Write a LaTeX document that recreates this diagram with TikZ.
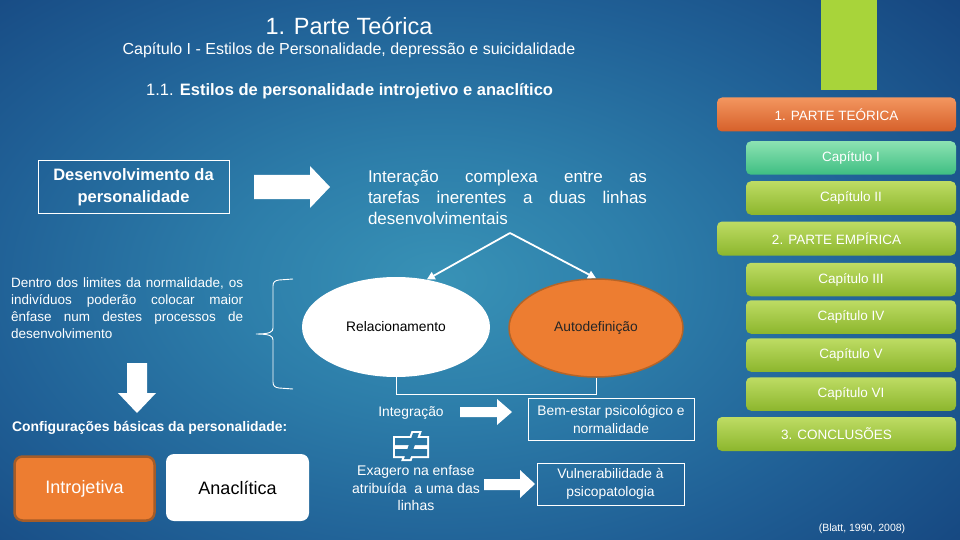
\documentclass[tikz,border=0pt]{standalone}
\usepackage{fontspec}
\setmainfont{Liberation Sans}
\usetikzlibrary{arrows.meta,shapes.geometric,calc}
\definecolor{bgA}{RGB}{56,146,182}
\definecolor{bgB}{RGB}{45,126,170}
\definecolor{bgC}{RGB}{32,96,150}
\definecolor{bgD}{RGB}{20,66,124}
\definecolor{bgE}{RGB}{12,46,104}
\definecolor{bgF}{RGB}{8,34,88}
\definecolor{orT}{RGB}{243,150,95}
\definecolor{orB}{RGB}{214,96,42}
\definecolor{tqT}{RGB}{140,226,178}
\definecolor{tqB}{RGB}{62,190,130}
\definecolor{grT}{RGB}{190,220,100}
\definecolor{grB}{RGB}{140,182,45}
\definecolor{grV}{RGB}{168,212,58}
\definecolor{orF}{RGB}{237,125,49}
\definecolor{orD}{RGB}{180,100,40}
\definecolor{orE}{RGB}{165,92,40}
\pgfdeclareradialshading{bgshade}{\pgfpoint{0bp}{0bp}}{color(0bp)=(bgA); color(10bp)=(bgB); color(22bp)=(bgC); color(35bp)=(bgD); color(50bp)=(bgE); color(72bp)=(bgF)}
\newcommand\fsz[2]{\fontsize{#1}{#2}\selectfont}
\begin{document}
\begin{tikzpicture}[x=1pt,y=-1pt,
  txt/.style={text=white, inner sep=0pt, font=\fsz{13.8}{17}},
  frame/.style={draw=white, line width=1pt, inner sep=0pt, text=white, align=center, font=\fsz{13.8}{18}},
  barbase/.style={rounded corners=5pt, inner sep=0pt, text=white, font=\fsz{13.5}{16}, minimum height=34pt},
  greenbar/.style={barbase, top color=grT, bottom color=grB},
  longbar/.style={minimum width=239pt},
  shortbar/.style={minimum width=210pt, minimum height=33.5pt},
  thinarrow/.style={draw=white, line width=1.8pt, -{Triangle[length=8pt,width=8pt]}},
  blockarrow/.style={fill=white},
]
\useasboundingbox (0,0) rectangle (960,540);
\begin{scope}
  \clip (0,0) rectangle (960,540);
  \shade[shading=bgshade] (-80,-40) rectangle (960,600);
\end{scope}

% titles
\node[txt, font=\fsz{23.5}{28}] (title) at (349,26) {1. Parte Teórica};
\node[txt, font=\fsz{16}{19}] (sub) at (349,50) {Capítulo I - Estilos de Personalidade, depressão e suicidalidade};
\node[txt, font=\fsz{16.5}{20}, anchor=west] (sec) at (146,91) {1.1. \textbf{Estilos de personalidade introjetivo e anaclítico}};

% right navigation
\node[fill=grV, minimum width=56pt, minimum height=90pt, inner sep=0pt] (vbar) at (848.5,45) {};
\node[barbase, longbar, top color=orT, bottom color=orB] (p1) at (836.5,114.5) {1. PARTE TEÓRICA};
\node[barbase, shortbar, top color=tqT, bottom color=tqB] (c1) at (851,158) {Capítulo I};
\node[greenbar, shortbar] (c2) at (851,198) {Capítulo II};
\node[greenbar, longbar] (p2) at (836.5,238.5) {2. PARTE EMPÍRICA};
\node[greenbar, shortbar] (c3) at (851,279.5) {Capítulo III};
\node[greenbar, shortbar] (c4) at (851,317) {Capítulo IV};
\node[greenbar, shortbar] (c5) at (851,355) {Capítulo V};
\node[greenbar, shortbar] (c6) at (851,394) {Capítulo VI};
\node[greenbar, longbar] (p3) at (836.5,434) {3. CONCLUSÕES};
\node[txt, font=\fsz{10.5}{12}] (blatt) at (862,529) {(Blatt, 1990, 2008)};

% top left
\node[frame, minimum width=191pt, minimum height=52pt, font=\bfseries\fsz{16.5}{22}] (dev) at (133.5,187) {Desenvolvimento da\\personalidade};
\fill[blockarrow] (254,175) -- (310,175) -- (310,166) -- (330,187) -- (310,208) -- (310,199) -- (254,199) -- cycle;
\node[txt, font=\fsz{17}{21}, text width=279pt, align=justify] (inter) at (507.5,197) {Interação complexa entre as\linebreak tarefas inerentes a duas linhas\linebreak desenvolvimentais};

% ellipses
\node[ellipse, fill=white, minimum width=188pt, minimum height=100pt, inner sep=0pt, text=black, font=\fsz{13.8}{17}] (rel) at (396,327) {Relacionamento};
\node[ellipse, fill=orF, draw=orD, line width=1.5pt, minimum width=174pt, minimum height=98pt, inner sep=0pt, text=black!85, font=\fsz{13.8}{17}] (auto) at (596,328) {Autodefinição};
\coordinate (apex) at (510,233);
\draw[thinarrow] (apex) -- (rel.57);
\draw[thinarrow] (apex) -- (auto.north);
\draw[white, line width=1pt] (rel.south) -- ++(0,17) -| (auto.south);

% brace
\draw[white, line width=0.9pt] (293,279) -- (279,280) .. controls (275,280.5) and (273,282) .. (273,286) -- (273,328) .. controls (273,332) and (270,334) .. (256,334) .. controls (270,334) and (273,336) .. (273,340) -- (273,382) .. controls (273,386) and (275,387.5) .. (279,388) -- (293,389);

% left paragraph
\node[txt, font=\fsz{13.5}{16.8}, text width=232pt, align=justify, anchor=north west] (dentro) at (11,278) {Dentro dos limites da normalidade, os\linebreak indivíduos poderão colocar maior\linebreak ênfase num destes processos de\linebreak desenvolvimento};
\fill[blockarrow] (127,363) -- (147,363) -- (147,393) -- (156,393) -- (137,413) -- (118,393) -- (127,393) -- cycle;
\node[txt, font=\bfseries\fsz{13.9}{17}, anchor=west] (conf) at (12,428) {Configurações básicas da personalidade:};
\node[fill=orF, draw=orE, line width=2.5pt, rounded corners=8pt, minimum width=140pt, minimum height=64pt, text=white, font=\fsz{18}{21}] (intro) at (84.5,488.5) {Introjetiva};
\node[fill=white, rounded corners=8pt, minimum width=143pt, minimum height=67pt, text=black, font=\fsz{18}{21}] (anac) at (237.5,487.5) {Anaclítica};

% lower middle
\node[txt] (integ) at (411,413) {Integração};
\fill[blockarrow] (460,407) -- (497,407) -- (497,399) -- (512,412) -- (497,425) -- (497,417) -- (460,417) -- cycle;
\node[frame, minimum width=166pt, minimum height=42pt] (bem) at (611,419) {Bem-estar psicológico e\\normalidade};

% not-equal symbol
\draw[white, line width=4pt, line join=miter]
  (395,438) -- (427,438) -- (427,445) -- (395,445) -- cycle
  (395,449) -- (427,449) -- (427,456) -- (395,456) -- cycle
  (413,433) -- (419,433) -- (410,459) -- (404,459) -- cycle;
\begin{scope}
  \clip (395,438) -- (427,438) -- (427,445) -- (395,445) -- cycle
        (395,449) -- (427,449) -- (427,456) -- (395,456) -- cycle
        (413,433) -- (419,433) -- (410,459) -- (404,459) -- cycle;
  \shade[shading=bgshade] (-80,-40) rectangle (960,600);
\end{scope}

\node[txt, align=center, font=\fsz{14}{17.5}] (exag) at (416,488) {Exagero na enfase\\atribuída\ \ a uma das\\linhas};
\fill[blockarrow] (484,479) -- (520,479) -- (520,470) -- (535,484) -- (520,498) -- (520,490) -- (484,490) -- cycle;
\node[frame, minimum width=147pt, minimum height=42pt] (vul) at (610.5,484) {Vulnerabilidade à\\psicopatologia};
\end{tikzpicture}
\end{document}
